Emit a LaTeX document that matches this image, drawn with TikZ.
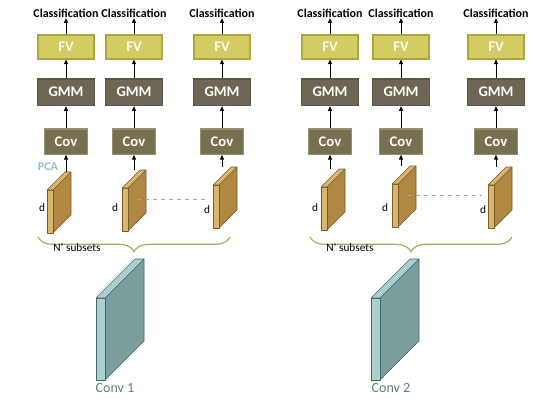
\documentclass[tikz,border=0pt]{standalone}
\usepackage{fontspec}
\setmainfont{Carlito}
\usepackage{tikz}
\usetikzlibrary{arrows.meta,positioning,decorations.pathreplacing}
\definecolor{fvfill}{RGB}{211,204,98}
\definecolor{fvedge}{RGB}{172,166,62}
\definecolor{gmmfill}{RGB}{110,102,84}
\definecolor{gmmedge}{RGB}{92,86,70}
\definecolor{covfill}{RGB}{118,112,78}
\definecolor{covedge}{RGB}{150,145,108}
\definecolor{brside}{RGB}{176,136,66}
\definecolor{brstrip}{RGB}{216,182,112}
\definecolor{bredge}{RGB}{122,92,42}
\definecolor{cvside}{RGB}{122,158,156}
\definecolor{cvstrip}{RGB}{170,208,208}
\definecolor{cvedge}{RGB}{64,104,104}
\definecolor{bracecol}{RGB}{176,166,100}
\definecolor{pcacol}{RGB}{140,195,205}
\definecolor{convtxt}{RGB}{90,125,128}

% feature map plate: name, x, y (bottom left), strip width, height, depth, side, strip, edge
\newcommand{\plate}[9]{%
  \filldraw[fill=#7, draw=#9, line join=round] (#2+#4,#3) -- ++(#6,-#6) -- ++(0,-#5) -- ++(-#6,#6) -- cycle;
  \filldraw[fill=#8, draw=#9, line join=round] (#2,#3) rectangle ++(#4,-#5);
  \filldraw[fill=#8, draw=#9, line join=round] (#2,#3-#5) -- ++(#4,0) -- ++(#6,-#6) -- ++(-#4,0) -- cycle;
  \coordinate (#1) at (#2+#4+#6/2,#3-#5-#6);
}

\begin{document}
\begin{tikzpicture}[x=0.75pt, y=-0.75pt,
  fvbox/.style={
    rectangle, draw=fvedge, fill=fvfill, line width=1pt,
    minimum width=42pt, minimum height=18pt, inner sep=0pt,
    font=\fontsize{11}{12}\selectfont\bfseries, text=white!92!fvfill},
  gmmbox/.style={
    rectangle, draw=gmmedge, fill=gmmfill, line width=1pt,
    minimum width=43pt, minimum height=20pt, inner sep=0pt,
    font=\fontsize{11}{12}\selectfont\bfseries, text=white},
  covbox/.style={
    rectangle, draw=covedge, fill=covfill, line width=1pt,
    minimum width=32pt, minimum height=19pt, inner sep=0pt,
    font=\fontsize{11}{12}\selectfont\bfseries, text=white},
  clstxt/.style={inner sep=0pt, font=\fontsize{9}{10}\selectfont\bfseries},
  dimtxt/.style={inner sep=0pt, font=\fontsize{8.5}{10}\selectfont},
  arr/.style={-{Triangle[length=3.5pt,width=3pt]}, line width=0.6pt},
  dashline/.style={dashed, draw=black!35, line width=0.5pt},
  brace/.style={decorate, decoration={brace, amplitude=11pt, mirror},
    draw=bracecol, line width=0.9pt}
]
  \useasboundingbox (0,0) rectangle (550,400);

  % left panel
  \node[covbox] (cov1) at (66,141.5) {Cov};
  \node[gmmbox, above=16.5pt of cov1] (gmm1) {GMM};
  \node[fvbox, above=14pt of gmm1] (fv1) {FV};
  \node[clstxt, above=12pt of fv1] (cls1) {Classification};
  \node[covbox] (cov2) at (134,141.5) {Cov};
  \node[gmmbox, above=16.5pt of cov2] (gmm2) {GMM};
  \node[fvbox, above=14pt of gmm2] (fv2) {FV};
  \node[clstxt, above=12pt of fv2] (cls2) {Classification};
  \node[covbox] (cov3) at (222,141.5) {Cov};
  \node[gmmbox, above=16.5pt of cov3] (gmm3) {GMM};
  \node[fvbox, above=14pt of gmm3] (fv3) {FV};
  \node[clstxt, above=12pt of fv3] (cls3) {Classification};

  \plate{p11}{47}{233}{6}{43}{18}{brside}{brstrip}{bredge}
  \plate{p12}{122}{231}{6}{43}{18}{brside}{brstrip}{bredge}
  \plate{p13}{213}{228}{6}{43}{18}{brside}{brstrip}{bredge}

  \draw[arr](cov1|-p11)--(cov1);
  \draw[arr](cov2|-p12)--(cov2);
  \draw[arr](cov3|-p13)--(cov3);
  \draw[arr](cov1)--(gmm1);
  \draw[arr](cov2)--(gmm2);
  \draw[arr](cov3)--(gmm3);
  \draw[arr](gmm1)--(fv1);
  \draw[arr](gmm2)--(fv2);
  \draw[arr](gmm3)--(fv3);
  \draw[arr](fv1)--(cls1);
  \draw[arr](fv2)--(cls2);
  \draw[arr](fv3)--(cls3);

  \node[inner sep=0pt, font=\fontsize{9}{10}\selectfont\bfseries, text=pcacol] (pca) at (48,167) {PCA};
  \node[dimtxt] (d11) at (42,208) {d};
  \node[dimtxt] (d12) at (115,208) {d};
  \node[dimtxt] (d13) at (207,210) {d};
  \coordinate (a12) at (137,199);
  \coordinate (a13) at (209,199);
  \draw[dashline](a12)--(a13);

  \draw[brace] (38,237) -- (230,237);
  \node[dimtxt] (sub1) at (77,248) {N' subsets};

  \plate{c1}{96}{380}{9}{82}{39}{cvside}{cvstrip}{cvedge}
  \node[inner sep=0pt, font=\fontsize{10.5}{12}\selectfont, text=convtxt] (conv1) at (115,388) {Conv 1};

  % right panel
  \node[covbox] (cov4) at (330,141.5) {Cov};
  \node[gmmbox, above=16.5pt of cov4] (gmm4) {GMM};
  \node[fvbox, above=14pt of gmm4] (fv4) {FV};
  \node[clstxt, above=12pt of fv4] (cls4) {Classification};
  \node[covbox] (cov5) at (401,141.5) {Cov};
  \node[gmmbox, above=16.5pt of cov5] (gmm5) {GMM};
  \node[fvbox, above=14pt of gmm5] (fv5) {FV};
  \node[clstxt, above=12pt of fv5] (cls5) {Classification};
  \node[covbox] (cov6) at (496,141.5) {Cov};
  \node[gmmbox, above=16.5pt of cov6] (gmm6) {GMM};
  \node[fvbox, above=14pt of gmm6] (fv6) {FV};
  \node[clstxt, above=12pt of fv6] (cls6) {Classification};

  \plate{p21}{321}{230}{6}{43}{18}{brside}{brstrip}{bredge}
  \plate{p22}{392}{227}{6}{43}{18}{brside}{brstrip}{bredge}
  \plate{p23}{488}{228}{6}{43}{18}{brside}{brstrip}{bredge}

  \draw[arr](cov4|-p21)--(cov4);
  \draw[arr](cov5|-p22)--(cov5);
  \draw[arr](cov6|-p23)--(cov6);
  \draw[arr](cov4)--(gmm4);
  \draw[arr](cov5)--(gmm5);
  \draw[arr](cov6)--(gmm6);
  \draw[arr](gmm4)--(fv4);
  \draw[arr](gmm5)--(fv5);
  \draw[arr](gmm6)--(fv6);
  \draw[arr](fv4)--(cls4);
  \draw[arr](fv5)--(cls5);
  \draw[arr](fv6)--(cls6);

  \node[dimtxt] (d21) at (315,208) {d};
  \node[dimtxt] (d22) at (385,208) {d};
  \node[dimtxt] (d23) at (483,210) {d};
  \coordinate (a22) at (408,195);
  \coordinate (a23) at (482,195);
  \draw[dashline](a22)--(a23);

  \draw[brace] (310,237) -- (512,237);
  \node[dimtxt] (sub2) at (350,248) {N' subsets};

  \plate{c2}{371}{380}{9}{82}{39}{cvside}{cvstrip}{cvedge}
  \node[inner sep=0pt, font=\fontsize{10.5}{12}\selectfont, text=convtxt] (conv2) at (391,388) {Conv 2};
\end{tikzpicture}
\end{document}
